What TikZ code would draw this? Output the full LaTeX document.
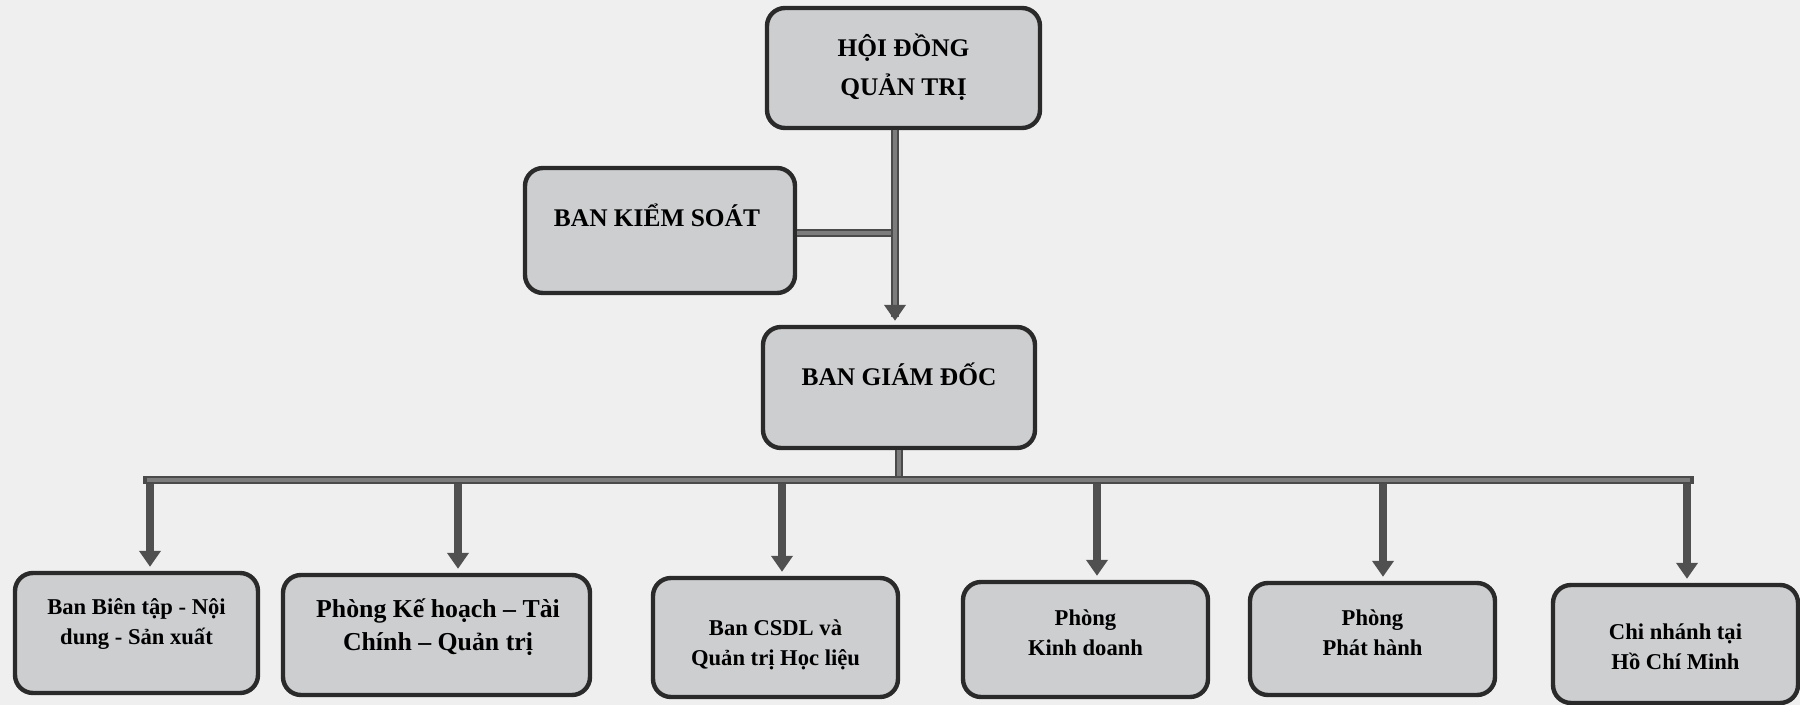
\documentclass[tikz,border=0pt]{standalone}
\usepackage{fontspec}
\setmainfont{Liberation Serif}
\usetikzlibrary{arrows.meta}
\definecolor{bg}{HTML}{EFEFEF}
\definecolor{boxfill}{HTML}{CDCED0}
\definecolor{boxline}{HTML}{2A2A2A}
\definecolor{conn}{HTML}{7C7C7C}
\definecolor{connedge}{HTML}{4A4A4A}
\definecolor{arr}{HTML}{505050}
\begin{document}
\begin{tikzpicture}[x=0.5pt,y=-0.5pt,
  orgbox/.style={draw=boxline, line width=2.2pt, fill=boxfill, rounded corners=9pt, inner sep=0pt},
  toplbl/.style={font=\bfseries\fontsize{12.7}{19.5}\selectfont, align=center, inner sep=0pt, text=black},
  lowlbl/.style={font=\bfseries\fontsize{11.3}{15}\selectfont, align=center, inner sep=0pt, text=black},
  biglbl/.style={font=\bfseries\fontsize{12.9}{16.5}\selectfont, align=center, inner sep=0pt, text=black},
  edgeline/.style={draw=connedge, line width=4pt},
  coreline/.style={draw=conn, line width=2.4pt},
  downarrow/.style={draw=arr, line width=3.6pt, -{Triangle[width=10.5pt,length=8pt,color=arr]}, shorten >=2pt},
]
\fill[bg] (0,0) rectangle (1800,705);
\useasboundingbox (0,0) rectangle (1800,705);

% top level boxes
\node[orgbox, minimum width=136.5pt, minimum height=60pt] (hdqt) at (903.5,68) {};
\node[toplbl] (hdqtT) at (903.5,67) {HỘI ĐỒNG\\QUẢN TRỊ};

\node[orgbox, minimum width=135pt, minimum height=62.5pt] (bks) at (660,230.5) {};
\node[toplbl] (bksT) at (657,215) {BAN KIỂM SOÁT};

\node[orgbox, minimum width=136pt, minimum height=60.5pt] (bgd) at (899,387.5) {};
\node[toplbl] (bgdT) at (899,374) {BAN GIÁM ĐỐC};

% bottom boxes
\node[orgbox, minimum width=121.5pt, minimum height=60pt] (b1) at (136.5,633) {};
\node[lowlbl] (b1T) at (136.5,624) {Ban Biên tập - Nội\\dung - Sản xuất};

\node[orgbox, minimum width=153.5pt, minimum height=60pt] (b2) at (436.5,635) {};
\node[biglbl] (b2T) at (438,627) {Phòng Kế hoạch – Tài\\Chính – Quản trị};

\node[orgbox, minimum width=122.5pt, minimum height=59.5pt] (b3) at (775.5,637.5) {};
\node[lowlbl] (b3T) at (775.5,645) {Ban CSDL và\\Quản trị Học liệu};

\node[orgbox, minimum width=122.5pt, minimum height=57.5pt] (b4) at (1085.5,639.5) {};
\node[lowlbl] (b4T) at (1085.5,633) {Phòng\\Kinh doanh};

\node[orgbox, minimum width=122.5pt, minimum height=56pt] (b5) at (1372.5,639) {};
\node[lowlbl] (b5T) at (1372.5,633) {Phòng\\Phát hành};

\node[orgbox, minimum width=122.5pt, minimum height=59pt] (b6) at (1675.5,644) {};
\node[lowlbl] (b6T) at (1675.5,647) {Chi nhánh tại\\Hồ Chí Minh};

% connectors
\coordinate (jv) at (895,233);
\coordinate (jb) at (899,480);
\coordinate (busL) at (147,480);
\coordinate (busR) at (1690,480);

\draw[edgeline] (bks.east |- jv) -- (jv);
\draw[coreline] (bks.east |- jv) -- (jv);

\draw[edgeline] (hdqt.south -| jv) -- ([yshift=6pt]bgd.north -| jv);
\draw[coreline] (hdqt.south -| jv) -- ([yshift=6pt]bgd.north -| jv);
\draw[downarrow, draw=arr!80!conn] ([yshift=4pt]bgd.north -| jv) -- (bgd.north -| jv);

\draw[edgeline] (bgd.south -| jb) -- (jb);
\draw[coreline] (bgd.south -| jb) -- (jb);

\draw[edgeline, line cap=rect] (busL) -- (busR);
\draw[coreline] (busL) -- (busR);

\coordinate (a1) at (150,484);
\coordinate (a2) at (458,484);
\coordinate (a3) at (782,484);
\coordinate (a4) at (1097,484);
\coordinate (a5) at (1383,484);
\coordinate (a6) at (1687,484);
\draw[downarrow] (a1) -- (a1 |- b1.north);
\draw[downarrow] (a2) -- (a2 |- b2.north);
\draw[downarrow] (a3) -- (a3 |- b3.north);
\draw[downarrow] (a4) -- (a4 |- b4.north);
\draw[downarrow] (a5) -- (a5 |- b5.north);
\draw[downarrow] (a6) -- (a6 |- b6.north);
\end{tikzpicture}
\end{document}
